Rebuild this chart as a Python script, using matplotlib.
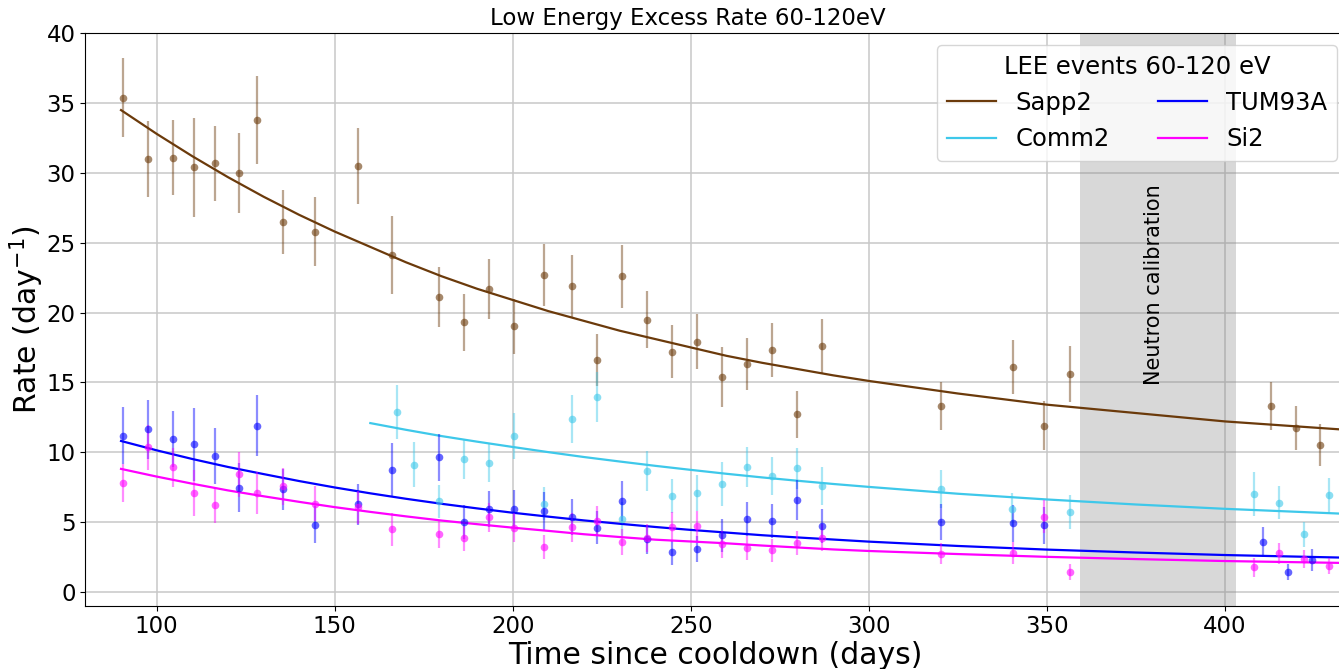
import matplotlib
matplotlib.use("Agg")
import matplotlib.pyplot as plt

# weekly LEE rates (60-120 eV) per detector, day^-1
sapp2_t = [90.6, 97.6, 104.6, 110.5, 116.3, 123.1, 128.1, 135.4, 144.5, 156.6,
           166.0, 179.3, 186.4, 193.3, 200.4, 208.8, 216.7, 223.7, 230.6, 237.7,
           244.7, 251.7, 258.7, 265.7, 272.8, 279.7, 286.7, 320.3, 340.4, 349.1,
           356.6, 412.8, 419.8, 426.8]
sapp2_rate = [35.4, 31.0, 31.1, 30.4, 30.7, 30.0, 33.8, 26.5, 25.8, 30.5,
              24.1, 21.1, 19.3, 21.7, 19.0, 22.7, 21.9, 16.6, 22.6, 19.5,
              17.2, 17.9, 15.4, 16.3, 17.3, 12.7, 17.6, 13.3, 16.1, 11.9,
              15.6, 13.3, 11.7, 10.5]
sapp2_err = [2.86, 2.70, 2.71, 3.57, 2.68, 2.84, 3.14, 2.28, 2.48, 2.70,
             2.78, 2.16, 2.05, 2.17, 1.95, 2.24, 2.20, 1.86, 2.27, 2.05,
             1.92, 1.98, 2.14, 1.87, 1.92, 1.66, 1.97, 1.73, 1.93, 1.73,
             2.00, 1.70, 1.57, 1.49]

comm2_t = [167.4, 172.3, 179.3, 186.4, 193.4, 200.4, 208.8, 216.7, 223.7, 230.6,
           237.7, 244.7, 251.7, 258.7, 265.7, 272.8, 279.7, 286.7, 320.3, 340.3,
           356.6, 408.1, 415.2, 422.2, 429.2]
comm2_rate = [12.89, 9.10, 6.47, 9.48, 9.24, 11.15, 6.30, 12.37, 13.97, 5.21,
              8.65, 6.86, 7.09, 7.71, 8.95, 8.29, 8.83, 7.57, 7.33, 5.90,
              5.71, 7.00, 6.38, 4.13, 6.90]
comm2_err = [1.93, 1.60, 1.18, 1.41, 1.37, 1.62, 1.17, 1.70, 1.80, 1.20,
             1.40, 1.24, 1.28, 1.56, 1.44, 1.36, 1.45, 1.34, 1.36, 1.17,
             1.22, 1.55, 1.17, 0.90, 1.27]

tum93a_t = [90.6, 97.6, 104.6, 110.5, 116.3, 123.1, 128.1, 135.4, 144.5, 156.6,
            166.0, 179.3, 186.4, 193.4, 200.4, 208.8, 216.7, 223.7, 230.6, 237.7,
            244.7, 251.7, 258.7, 265.7, 272.8, 279.7, 286.7, 320.3, 340.4, 349.1,
            410.6, 417.6, 424.5]
tum93a_rate = [11.17, 11.65, 10.94, 10.55, 9.72, 7.45, 11.89, 7.33, 4.80, 6.25,
               8.72, 9.62, 4.99, 5.92, 5.95, 5.78, 5.35, 4.58, 6.47, 3.75,
               2.82, 3.06, 4.03, 5.18, 5.06, 6.59, 4.68, 4.99, 4.89, 4.75,
               3.58, 1.41, 2.29]
tum93a_err = [2.04, 2.11, 2.00, 2.60, 1.98, 1.75, 2.18, 1.45, 1.31, 1.48,
              1.91, 1.69, 1.19, 1.31, 1.34, 1.33, 1.29, 1.17, 1.43, 1.03,
              0.91, 0.93, 1.19, 1.22, 1.24, 1.43, 1.22, 1.31, 1.30, 1.35,
              1.07, 0.60, 0.78]

si2_t = [90.6, 97.6, 104.6, 110.5, 116.3, 123.1, 128.1, 135.4, 144.5, 156.6,
         166.0, 179.3, 186.4, 193.4, 200.4, 208.8, 216.7, 223.7, 230.6, 237.7,
         244.7, 251.7, 258.7, 265.7, 272.8, 279.7, 286.7, 320.3, 340.4, 349.1,
         356.6, 408.1, 415.2, 422.2, 429.2]
si2_rate = [7.81, 10.34, 8.93, 7.07, 6.18, 8.40, 7.07, 7.54, 6.30, 6.04,
            4.46, 4.13, 3.82, 5.32, 4.58, 3.20, 4.61, 5.09, 3.56, 3.87,
            4.61, 4.71, 3.39, 3.15, 2.96, 3.49, 3.87, 2.72, 2.79, 5.39,
            1.41, 1.77, 2.74, 2.34, 1.84]
si2_err = [1.37, 1.60, 1.40, 1.67, 1.25, 1.58, 1.48, 1.31, 1.24, 1.20,
           1.19, 1.00, 0.90, 1.07, 1.05, 0.87, 1.06, 1.03, 0.95, 1.00,
           1.07, 1.07, 0.98, 0.86, 0.82, 0.88, 0.95, 0.75, 0.78, 1.19,
           0.58, 0.68, 0.72, 0.65, 0.56]

# fitted decay curves, sampled
fit_t = [90, 100, 110, 120, 130, 140, 150, 160, 170, 180, 190, 200,
         210, 220, 230, 240, 250, 260, 270, 280, 290, 300,
         325, 350, 375, 400, 434]
sapp2_fit = [34.5, 32.8, 31.2, 29.7, 28.3, 27.0, 25.8, 24.7, 23.6, 22.6, 21.7, 20.9,
             20.1, 19.4, 18.7, 18.1, 17.5, 16.9, 16.4, 15.95, 15.5, 15.1,
             14.2, 13.4, 12.8, 12.2, 11.6]
tum93a_fit = [10.8, 10.13, 9.51, 8.94, 8.43, 7.93, 7.47, 7.05, 6.66, 6.3, 5.97, 5.66,
              5.38, 5.11, 4.87, 4.64, 4.43, 4.24, 4.05, 3.89, 3.74, 3.59,
              3.28, 3.02, 2.81, 2.63, 2.44]
si2_fit = [8.8, 8.25, 7.74, 7.26, 6.84, 6.44, 6.06, 5.72, 5.4, 5.1, 4.84, 4.59,
           4.36, 4.12, 3.92, 3.73, 3.6, 3.47, 3.31, 3.17, 3.03, 2.92,
           2.7, 2.5, 2.34, 2.2, 2.06]

comm2_fit_t = [160, 170, 180, 190, 200, 210, 220, 230, 240, 250, 260, 270, 280, 290, 300,
               325, 350, 375, 400, 434]
comm2_fit = [12.08, 11.6, 11.15, 10.75, 10.37, 10.0, 9.65, 9.33, 9.02, 8.73, 8.45, 8.19,
             7.95, 7.72, 7.51, 7.02, 6.61, 6.25, 5.94, 5.58]

neutron_start, neutron_end = 359.3, 403.2

series = [
    ("Sapp2", "#6b3a0b", sapp2_t, sapp2_rate, sapp2_err, fit_t, sapp2_fit),
    ("Comm2", "#3ec8ea", comm2_t, comm2_rate, comm2_err, comm2_fit_t, comm2_fit),
    ("TUM93A", "#0000ff", tum93a_t, tum93a_rate, tum93a_err, fit_t, tum93a_fit),
    ("Si2", "#ff00ff", si2_t, si2_rate, si2_err, fit_t, si2_fit),
]

fig = plt.figure(figsize=(13.39, 6.69), dpi=100)
ax = fig.add_axes([0.0638, 0.0946, 0.9415, 0.8556])

ax.axvspan(neutron_start, neutron_end, color="gray", alpha=0.3, lw=0)
ax.text(380, 22, "Neutron calibration", rotation=90, ha="center", va="center", fontsize=15)

for name, col, t, r, e, ft, fv in series:
    _, _, bars = ax.errorbar(t, r, yerr=e, fmt="o", color=col, alpha=0.6,
                             markersize=5.5, elinewidth=1.6, markeredgewidth=0)
    for b in bars:
        b.set_alpha(0.45)
    ax.plot(ft, fv, color=col, lw=1.6, label=name)

ax.set_xlim(80, 434)
ax.set_ylim(-1, 40)
ax.grid(True, color="#c8c8c8", lw=1.1)
ax.set_axisbelow(True)
ax.tick_params(labelsize=16.5)
ax.set_xlabel("Time since cooldown (days)", fontsize=21.5, labelpad=2)
ax.set_ylabel("Rate (day$^{-1}$)", fontsize=21.5, labelpad=0)
ax.set_title("Low Energy Excess Rate 60-120eV", fontsize=16.5, x=0.478)

ax.legend(title="LEE events 60-120 eV", ncol=2, fontsize=17.5, title_fontsize=17.5,
          loc="upper right", bbox_to_anchor=(1337 / 1339, 1 - 45 / 669),
          bbox_transform=fig.transFigure, borderaxespad=0)

fig.savefig("out.png", dpi=100)
